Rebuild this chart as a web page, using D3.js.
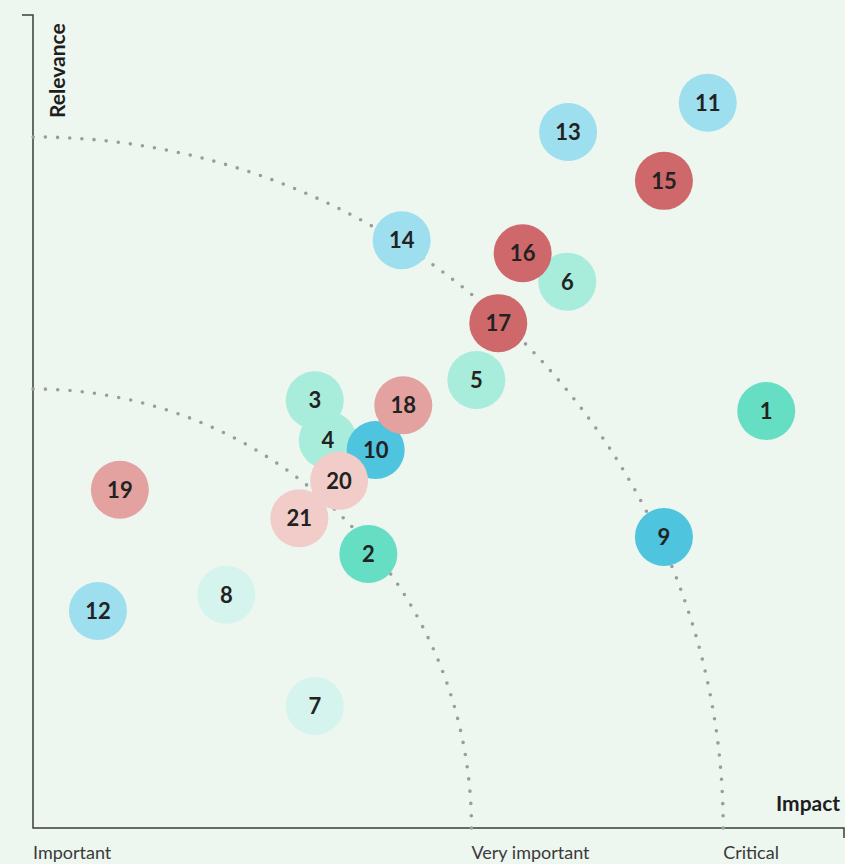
<!DOCTYPE html>
<html>
<head>
<meta charset="utf-8">
<script src="https://cdnjs.cloudflare.com/ajax/libs/d3/7.8.5/d3.min.js"></script>
<style>
    html, body { margin: 0; padding: 0; background: #edf6ef; }
    svg { display: block; font-family: Lato, "Open Sans", sans-serif; }
</style>
</head>
<body>
<svg id="chart" width="845" height="864"></svg>
<script>
// issue ids, impact (x) and relevance (y)
var ids       = [1, 2, 3, 4, 5, 6, 7, 8, 9, 10, 11, 12, 13, 14, 15, 16, 17, 18, 19, 20, 21];
var impact    = [90.3, 41.3, 34.7, 36.3, 54.6, 65.8, 34.7, 23.8, 77.7, 42.2, 83.1, 8.0, 65.9, 45.4, 77.7, 60.3, 57.3, 45.6, 10.7, 37.7, 32.8];
var relevance = [51.3, 33.7, 52.6, 47.7, 55.1, 67.2, 15.0, 28.7, 35.8, 46.5, 89.2, 26.7, 85.6, 72.3, 79.6, 70.7, 62.1, 52.0, 41.6, 42.7, 38.1];
var groups    = ["teal", "teal", "mint", "mint", "mint", "mint", "pale", "pale", "blue", "blue", "sky", "sky", "sky", "sky", "red", "red", "red", "rose", "rose", "blush", "blush"];

var tickValues = [0, 54, 85];
var tickLabels = ["Important", "Very important", "Critical"];
var ringRadii  = [54, 85];

var colors = {
    teal: "#66dec3", mint: "#a8ecdc", pale: "#d5f4ed", blue: "#4ec4df",
    sky: "#9ddfee", red: "#cf686b", rose: "#e3a19f", blush: "#f1ccc8"
};

var svg = d3.select("#chart");
var x = d3.scaleLinear().domain([0, 100]).range([33, 845]);
var y = d3.scaleLinear().domain([0, 100]).range([828, 15]);

// axes
svg.append("path")
    .attr("d", "M" + (x(0) - 11) + "," + y(100) + "H" + x(0) + "V" + y(0) + "H" + (x(100) - 1) + "V" + (y(0) + 10))
    .attr("fill", "none")
    .attr("stroke", "#3d3d3d")
    .attr("stroke-width", 1.5);

// dotted rings around the origin, a dot on each axis
var ring = d3.line().x(function(d) { return x(d[0]); }).y(function(d) { return y(d[1]); });
ringRadii.forEach(function(r) {
    var pts = d3.range(0, 181).map(function(a) {
        var t = a * Math.PI / 360;
        return [r * Math.cos(t), r * Math.sin(t)];
    });
    var p = svg.append("path")
        .attr("d", ring(pts))
        .attr("fill", "none")
        .attr("stroke", "#9a9d9c")
        .attr("stroke-width", 3.6)
        .attr("stroke-linecap", "round");
    var len = p.node().getTotalLength();
    var gap = len / Math.round(len / 12.2) - 0.002;
    p.attr("stroke-dasharray", "0 " + gap);
});

svg.selectAll(".tick-label")
    .data(tickValues)
    .enter().append("text")
    .attr("x", function(d) { return x(d); })
    .attr("y", 859)
    .attr("font-size", 18)
    .attr("fill", "#3a3a3a")
    .text(function(d, i) { return tickLabels[i]; });

svg.append("text")
    .attr("x", 776)
    .attr("y", 811)
    .attr("font-size", 21)
    .attr("font-weight", 700)
    .attr("fill", "#1e1e1e")
    .text("Impact");

svg.append("text")
    .attr("transform", "translate(65,118) rotate(-90)")
    .attr("font-size", 21)
    .attr("font-weight", 700)
    .attr("fill", "#1e1e1e")
    .text("Relevance");

// bubbles
var nodes = svg.selectAll(".bubble")
    .data(ids)
    .enter().append("g")
    .attr("transform", function(d, i) { return "translate(" + x(impact[i]) + "," + y(relevance[i]) + ")"; });

nodes.append("circle")
    .attr("r", 29)
    .attr("fill", function(d, i) { return colors[groups[i]]; });

nodes.append("text")
    .attr("text-anchor", "middle")
    .attr("dy", "0.36em")
    .attr("font-size", 22)
    .attr("font-weight", 700)
    .attr("fill", "#222")
    .text(function(d) { return d; });
</script>
</body>
</html>
